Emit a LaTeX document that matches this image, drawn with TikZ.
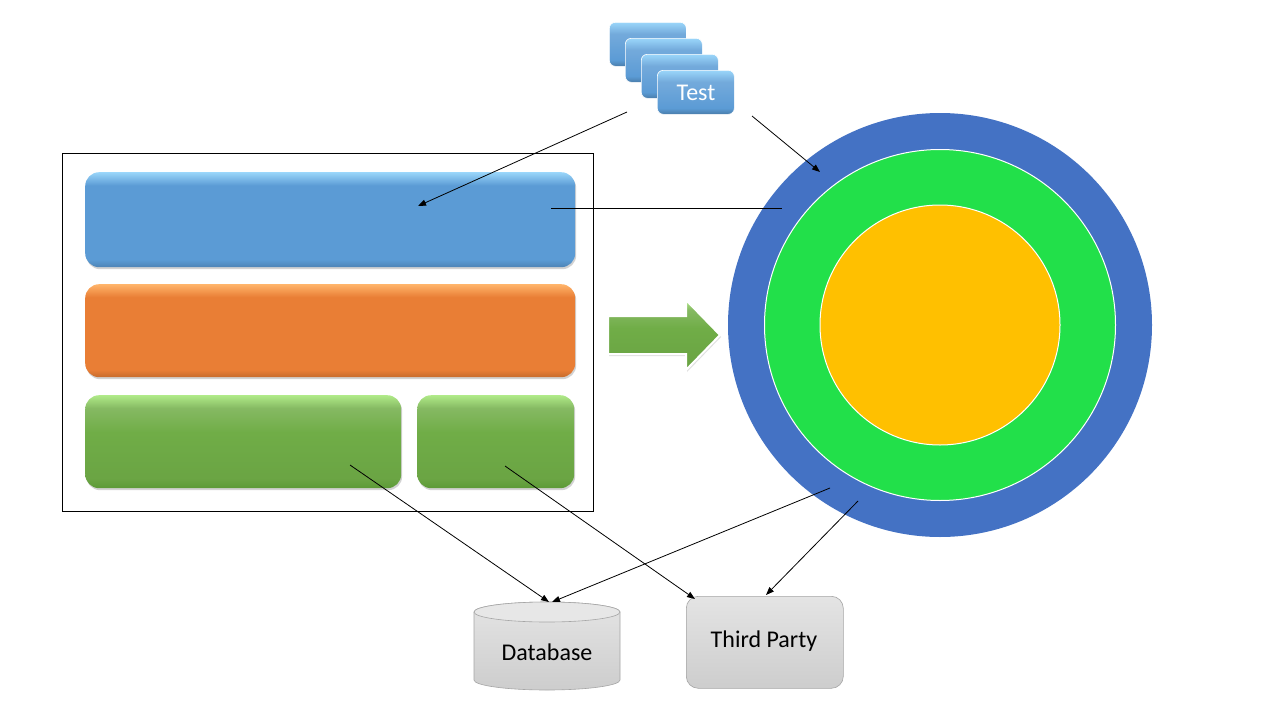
\documentclass[tikz,border=0pt]{standalone}
\usepackage{fontspec}
\setmainfont{Carlito}
\usetikzlibrary{shadows,arrows.meta}
\definecolor{barblue}{HTML}{5B9BD5}
\definecolor{barbluetop}{HTML}{9AD6FA}
\definecolor{barorange}{HTML}{E97E35}
\definecolor{barorangetop}{HTML}{FFB46A}
\definecolor{bargreen}{HTML}{70AD47}
\definecolor{bargreentop}{HTML}{B0EA88}
\definecolor{bargreenbot}{HTML}{5C9A36}
\definecolor{ringblue}{HTML}{4472C4}
\definecolor{ringgreen}{HTML}{22E04A}
\definecolor{ringorange}{HTML}{FFC000}
\definecolor{greylight}{HTML}{E4E4E4}
\definecolor{greymid}{HTML}{CDCDCD}
\definecolor{greyedge}{HTML}{A6A6A6}
\pgfdeclareverticalshading{bluesh}{100bp}{color(0bp)=(barblue!85!black); color(25bp)=(barblue!85!black); color(29bp)=(barblue); color(68bp)=(barblue); color(75bp)=(barbluetop); color(100bp)=(barbluetop)}
\pgfdeclareverticalshading{orangesh}{100bp}{color(0bp)=(barorange!85!black); color(25bp)=(barorange!85!black); color(29bp)=(barorange); color(68bp)=(barorange); color(75bp)=(barorangetop); color(100bp)=(barorangetop)}
\pgfdeclareverticalshading{greensh}{100bp}{color(0bp)=(bargreenbot); color(25bp)=(bargreenbot); color(30bp)=(bargreen!95!black); color(55bp)=(bargreen); color(68bp)=(bargreen!85!white); color(75bp)=(bargreentop); color(100bp)=(bargreentop)}
\pgfdeclareverticalshading{testsh}{100bp}{color(0bp)=(barblue!80!black); color(25bp)=(barblue!80!black); color(32bp)=(barblue); color(62bp)=(barblue!85!white); color(75bp)=(barbluetop); color(100bp)=(barbluetop)}
\tikzset{
  bar/.style={anchor=north west, inner sep=0pt, rounded corners=14pt,
    drop shadow={shadow xshift=1pt, shadow yshift=-2pt, fill=black!35, opacity=0.5}},
  bluebar/.style={bar, shading=bluesh},
  orangebar/.style={bar, shading=orangesh},
  greenbar/.style={bar, shading=greensh},
  testbox/.style={anchor=north west, inner sep=0pt, minimum width=77pt, minimum height=44pt,
    rounded corners=6pt, draw=white, line width=0.6pt, shading=testsh},
  conn/.style={draw=black, line width=0.8pt, -{Triangle[length=8pt,width=6pt]}},
  plain/.style={draw=black, line width=0.8pt},
  lbl/.style={font=\fontsize{24}{28}\selectfont},
}
\begin{document}
\begin{tikzpicture}[x=1pt,y=-1pt]
\useasboundingbox (0,0) rectangle (1280,720);
\fill[white] (0,0) rectangle (1280,720);
% frame
\node[draw=black, line width=0.8pt, anchor=north west, inner sep=0pt, minimum width=531pt, minimum height=358pt] (frame) at (62,153) {};
% bars
\node[bluebar, minimum width=490pt, minimum height=95pt] (blue) at (85,172) {};
\node[orangebar, minimum width=490pt, minimum height=93pt] (orange) at (85,284) {};
\node[greenbar, minimum width=316pt, minimum height=93pt] (greenL) at (85,395) {};
\node[greenbar, minimum width=157pt, minimum height=93pt] (greenR) at (417,395) {};
% big green arrow
\path[draw=white, line width=2pt, shading=greensh,
  drop shadow={shadow xshift=1pt, shadow yshift=-2pt, fill=black!30, opacity=0.4}]
  (608,316) -- (686,316) -- (686,300) -- (720,335) -- (686,370) -- (686,354) -- (608,354) -- cycle;
\node[inner sep=0pt] (bigarrow) at (664,335) {};
% rings
\node[circle, fill=ringblue, minimum size=424pt, inner sep=0pt] (outer) at (940,325) {};
\node[circle, fill=ringgreen, draw=white, line width=1pt, minimum size=351pt, inner sep=0pt] (mid) at (940,325) {};
\node[circle, fill=ringorange, draw=white, line width=1pt, minimum size=240pt, inner sep=0pt] (inner) at (940,325) {};
% test stack
\node[testbox] (t1) at (609,22) {};
\node[testbox] (t2) at (625,38) {};
\node[testbox] (t3) at (641,54) {};
\node[testbox] (t4) at (657,70) {};
\node[lbl, text=white] (testlbl) at (696,93) {Test};
% database cylinder
\shade[top color=greylight, bottom color=greymid, draw=greyedge, line width=0.6pt]
  (474,612) -- (474,680) arc[start angle=180, end angle=360, x radius=73pt, y radius=10pt] -- (620,612)
  arc[start angle=0, end angle=180, x radius=73pt, y radius=10pt] -- cycle;
\fill[greylight!90!white, draw=greyedge, line width=0.6pt] (547,612) ellipse[x radius=73pt, y radius=10pt];
\node[lbl] (db) at (547,652) {Database};
\coordinate (dbtop) at (549,602);
% third party
\node[anchor=north west, inner sep=0pt, minimum width=157pt, minimum height=92pt, rounded corners=12pt,
  top color=greylight, bottom color=greymid, draw=greyedge, line width=0.6pt] (tp) at (686,596) {};
\node[lbl] (tplbl) at (764,641) {Third Party};
% connector coordinates
\coordinate (s1) at (627,112);
\coordinate (e1) at (418,206);
\coordinate (s2) at (752,116);
\coordinate (e2) at (820,172);
\coordinate (s3) at (551,208);
\coordinate (e3) at (782,208);
\coordinate (s4) at (350,465);
\coordinate (s5) at (505,466);
\coordinate (e5) at (695,599);
\coordinate (s6) at (830,488);
\coordinate (e6b) at (552,602);
\coordinate (s7) at (858,501);
\coordinate (e7) at (766,595);
\draw[conn] (s1) -- (e1);
\draw[conn] (s2) -- (e2);
\draw[plain] (s3) -- (e3);
\draw[conn] (s4) -- (dbtop);
\draw[conn] (s5) -- (e5);
\draw[conn] (s6) -- (e6b);
\draw[conn] (s7) -- (e7);
\end{tikzpicture}
\end{document}
